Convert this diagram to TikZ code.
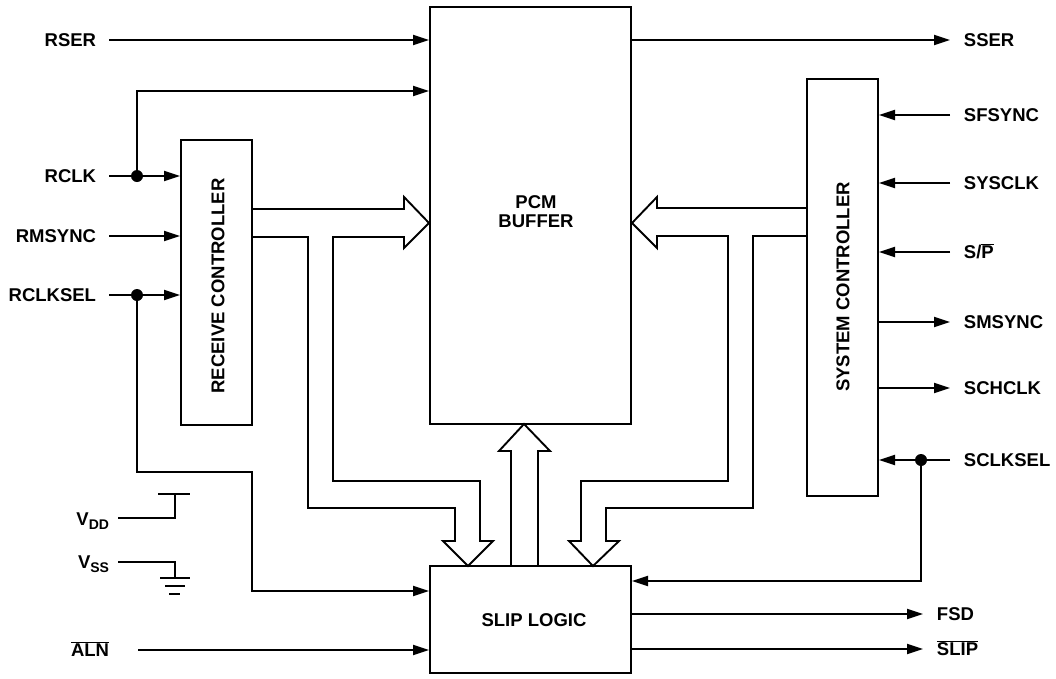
\documentclass[tikz,border=0pt]{standalone}
\usepackage{fontspec}
\setmainfont{Liberation Sans}
\usetikzlibrary{arrows.meta}
\newcommand\ovl[1]{\ensuremath{\overline{\mbox{#1}}}}
\begin{document}
\begin{tikzpicture}[x=1pt,y=-1pt,
  line width=1.9pt, line join=miter,
  every node/.style={font=\fontsize{18.5}{21}\selectfont\bfseries, inner sep=0pt},
  box/.style={draw, line width=2pt},
  sig/.style={-{Triangle[length=16pt,width=10pt]}},
  lab/.style={anchor=base east},
  rlab/.style={anchor=base west},
  dotc/.style={fill=black, circle, minimum size=12pt, inner sep=0pt}
]
\useasboundingbox (0,0) rectangle (1056,678);

% blocks
\node[box, minimum width=201pt, minimum height=417pt] (pcm) at (530.5,215.5) {};
\node[box, minimum width=71pt, minimum height=285pt] (rc) at (216.5,282.5) {};
\node[box, minimum width=71pt, minimum height=417pt] (sc) at (842.5,287.5) {};
\node[box, minimum width=201pt, minimum height=107pt] (slip) at (530.5,619.5) {};

\node[align=center, font=\fontsize{18.5}{19}\selectfont\bfseries] (pcmtxt) at (536,212) {PCM\\BUFFER};
\node[rotate=90] (rctxt) at (218,286) {RECEIVE CONTROLLER};
\node[rotate=90] (sctxt) at (843,287) {SYSTEM CONTROLLER};
\node (sliptxt) at (534,620) {SLIP LOGIC};

% left labels
\node[lab] (rser) at (97,46.7) {RSER};
\node[lab] (rclk) at (97,182.7) {RCLK};
\node[lab] (rmsync) at (97,242.7) {RMSYNC};
\node[lab] (rclksel) at (97,301.7) {RCLKSEL};
\node[lab] (vdd) at (110,525) {V\raisebox{-4pt}{\fontsize{14}{14}\selectfont DD}};
\node[lab] (vss) at (110,568) {V\raisebox{-4pt}{\fontsize{14}{14}\selectfont SS}};
\node[lab] (aln) at (110,656.7) {\ovl{ALN}};

% right labels
\node[rlab] (sser) at (963,46.7) {SSER};
\node[rlab] (sfsync) at (963,121.7) {SFSYNC};
\node[rlab] (sysclk) at (963,189.7) {SYSCLK};
\node[rlab] (sp) at (963,258.7) {S/\ovl{P}};
\node[rlab] (smsync) at (963,328.7) {SMSYNC};
\node[rlab] (schclk) at (963,394.7) {SCHCLK};
\node[rlab] (sclksel) at (963,466.7) {SCLKSEL};
\node[rlab] (fsd) at (936,620.7) {FSD};
\node[rlab] (slipo) at (936,655.7) {\ovl{SLIP}};

% junction dots
\node[dotc] (d1) at (137,176) {};
\node[dotc] (d2) at (137,295) {};
\node[dotc] (d3) at (921,460) {};

% left inputs
\draw[sig] (109,40) -- (pcm.west |- 0,40);
\draw (109,176) -- (d1.center);
\draw[sig] (d1.center) -- (rc.west |- d1);
\draw[sig] (d1.center) -- (137,91) -- (pcm.west |- 0,91);
\draw[sig] (109,236) -- (rc.west |- 0,236);
\draw (109,295) -- (d2.center);
\draw[sig] (d2.center) -- (rc.west |- d2);
\draw[sig] (d2.center) -- (137,472) -- (252,472) -- (252,591) -- (slip.west |- 0,591);
\draw[sig] (138,650) -- (slip.west |- 0,650);

% right side
\draw[sig] (pcm.east |- 0,40) -- (950,40);
\draw[sig] (950,115) -- (sc.east |- 0,115);
\draw[sig] (950,183) -- (sc.east |- 0,183);
\draw[sig] (950,252) -- (sc.east |- 0,252);
\draw[sig] (sc.east |- 0,322) -- (950,322);
\draw[sig] (sc.east |- 0,388) -- (950,388);
\draw (950,460) -- (d3.center);
\draw[sig] (d3.center) -- (sc.east |- d3);
\draw[sig] (d3.center) -- (921,581) -- (slip.east |- 0,581);
\draw[sig] (slip.east |- 0,614) -- (923,614);
\draw[sig] (slip.east |- 0,649) -- (923,649);

% buses
\draw (rc.east |- 0,209) -- (404,209) -- (404,197) -- (pcm.west |- 0,223) -- (404,248) -- (404,237)
  -- (333,237) -- (333,481) -- (480,481) -- (480,541) -- (493,541) -- (468,566) -- (443,541)
  -- (455,541) -- (455,508) -- (308,508) -- (308,237) -- (rc.east |- 0,237);
\draw (sc.west |- 0,208) -- (657,208) -- (657,197) -- (pcm.east |- 0,223) -- (657,248) -- (657,236)
  -- (728,236) -- (728,481) -- (581,481) -- (581,541) -- (569,541) -- (593,566) -- (619,541)
  -- (606,541) -- (606,508) -- (753,508) -- (753,236) -- (sc.west |- 0,236);
\draw (511,566) -- (511,451) -- (499,451) -- (524,424) -- (550,451) -- (538,451) -- (538,566);

% supply symbols
\draw (118,518) -- (175,518) -- (175,494);
\draw (158,494) -- (190,494);
\draw (118,562) -- (175,562) -- (175,578);
\draw (160,578) -- (190,578);
\draw (165,586) -- (185,586);
\draw[line width=2.6pt] (169,594) -- (180,594);
\end{tikzpicture}
\end{document}
